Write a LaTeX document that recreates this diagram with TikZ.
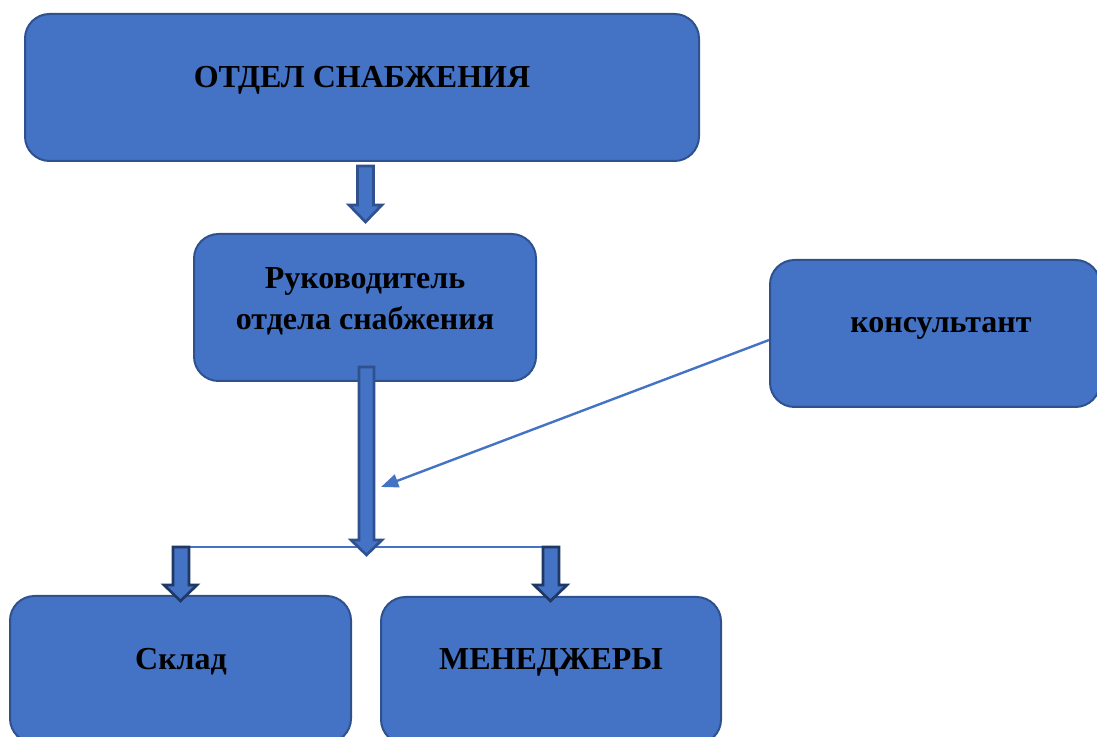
\documentclass[tikz,border=0pt]{standalone}
\usepackage{fontspec}
\setmainfont{Liberation Serif}
\usetikzlibrary{arrows.meta}
\definecolor{boxfill}{HTML}{4472C4}
\definecolor{boxline}{HTML}{2F528F}
\definecolor{darkline}{HTML}{1F3864}
\begin{document}
\begin{tikzpicture}[x=0.75pt,y=-0.75pt,
  box/.style={draw=boxline, line width=1.5pt, fill=boxfill, rounded corners=18.4pt, inner sep=0pt},
  lbl/.style={font=\bfseries\fontsize{24}{30.75}\selectfont, align=center, inner sep=0pt, text=black},
  barrow/.style={draw=boxline, line width=2pt, fill=boxfill, line join=miter},
  sarrow/.style={draw=darkline, line width=2pt, fill=boxfill, line join=miter},
  thinline/.style={draw=boxfill, line width=1.3pt}]
\clip (0,0) rectangle (1097,737);
\fill[white] (0,0) rectangle (1097,737);
% boxes
\node[box, minimum width=505.5pt, minimum height=110.25pt] (otdel) at (362,87.5) {};
\node[box, minimum width=256.5pt, minimum height=110.25pt] (ruk) at (365,307.5) {};
\node[box, minimum width=247.5pt, minimum height=110.25pt] (kons) at (935,333.5) {};
\node[box, minimum width=255.75pt, minimum height=110.25pt] (sklad) at (180.5,669.5) {};
\node[box, minimum width=255pt, minimum height=110.25pt] (men) at (551,670.5) {};
% texts
\node[lbl, anchor=base] (t1) at (362,88) {ОТДЕЛ СНАБЖЕНИЯ};
\node[lbl, anchor=center] (t2) at (365,301) {Руководитель\\отдела снабжения};
\node[lbl, anchor=base] (t3) at (941,333) {консультант};
\node[lbl, anchor=base] (t4) at (181,670) {Склад};
\node[lbl, anchor=base] (t5) at (551,670) {МЕНЕДЖЕРЫ};
% branch line
\coordinate (bl) at (181,547);
\coordinate (br) at (551,547);
\draw[thinline] (bl) -- (br);
% block arrows
\draw[barrow] (357.5,166) -- (373.5,166) -- (373.5,205) -- (382,205) -- (365.5,222) -- (349,205) -- (357.5,205) -- cycle;
\draw[barrow] (359,367) -- (374,367) -- (374,540) -- (382,540) -- (366.5,555) -- (351,540) -- (359,540) -- cycle;
\draw[sarrow] (173,547) -- (189,547) -- (189,585) -- (197,585) -- (180.5,601) -- (164,585) -- (173,585) -- cycle;
\draw[sarrow] (543,547) -- (559,547) -- (559,585) -- (567,585) -- (550.5,601) -- (534,585) -- (543,585) -- cycle;
% consultant arrow
\coordinate (ktip) at (381,487);
\draw[draw=boxfill, line width=1.8pt, -{Triangle[length=13pt,width=10pt]}] ([yshift=-4.9pt]kons.west) -- (ktip);
\end{tikzpicture}
\end{document}
